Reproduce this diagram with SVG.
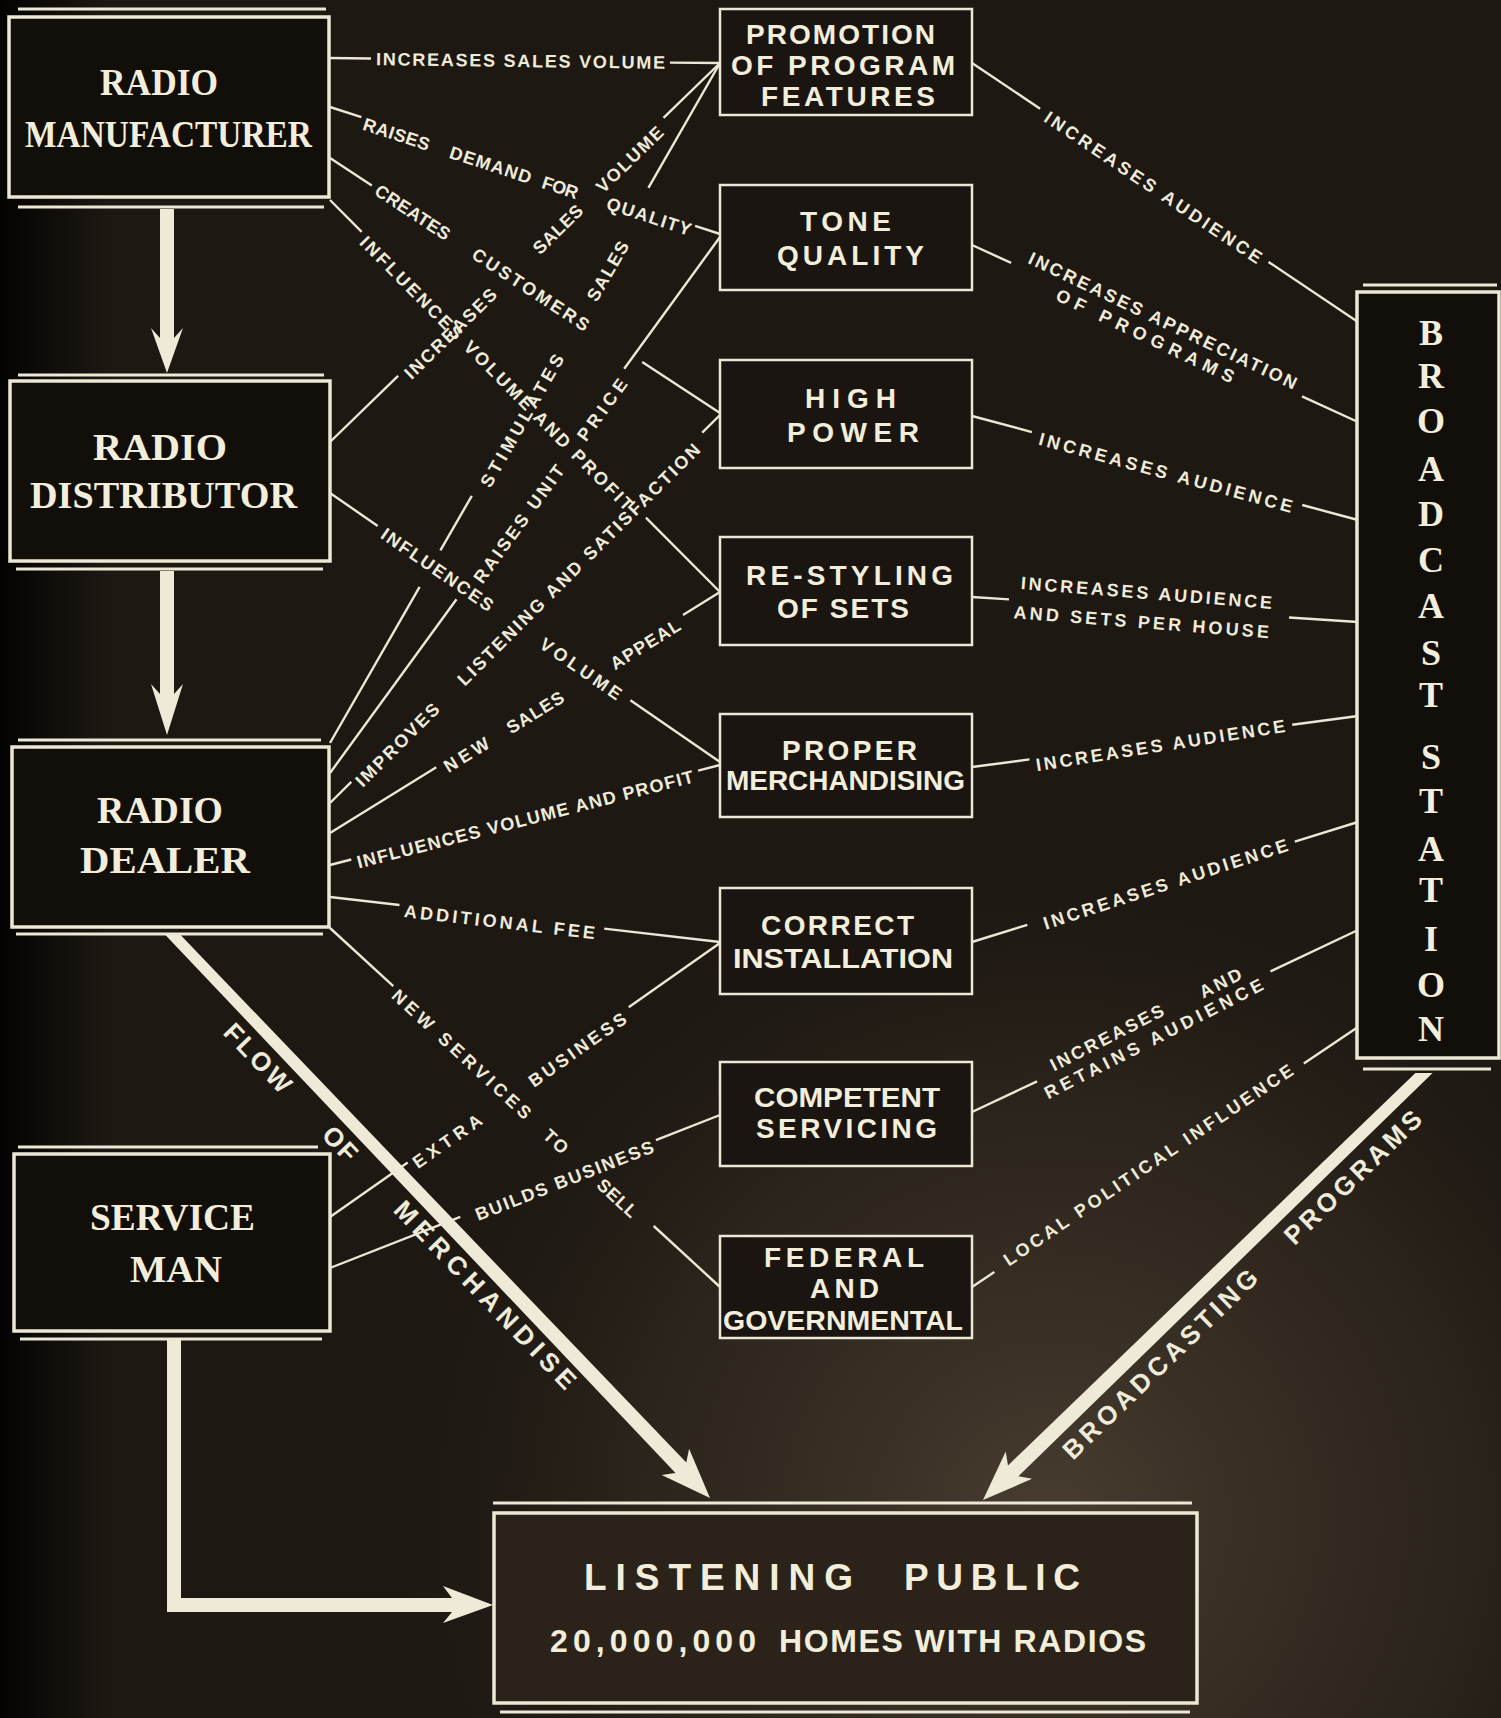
<svg xmlns="http://www.w3.org/2000/svg" width="1501" height="1718" viewBox="0 0 1501 1718">
<defs>
<radialGradient id="glow" cx="1050" cy="1520" r="700" gradientUnits="userSpaceOnUse">
<stop offset="0" stop-color="#483d30" stop-opacity="1"/>
<stop offset="0.6" stop-color="#352c22" stop-opacity="0.6"/>
<stop offset="1" stop-color="#1d1812" stop-opacity="0"/>
</radialGradient>
<linearGradient id="lv" x1="0" y1="0" x2="1" y2="0">
<stop offset="0" stop-color="#030202" stop-opacity="0.95"/>
<stop offset="1" stop-color="#030202" stop-opacity="0"/>
</linearGradient>
<style>
.c{fill:none;stroke:#ebe7d4;stroke-width:2.4;stroke-linecap:butt}
.lbl{font-family:"Liberation Sans",Arial,sans-serif;font-weight:bold;font-size:18px;fill:#efebda;text-anchor:middle}
.big{font-family:"Liberation Sans",Arial,sans-serif;font-weight:bold;font-size:26px;fill:#efebda;text-anchor:middle}
.band{fill:#eeead7}
.lb{fill:#120f0b;stroke:#ece8d5;stroke-width:3.5}
.ex{fill:none;stroke:#ece8d5;stroke-width:3}
.mb{fill:#1a1510;stroke:#ece8d5;stroke-width:2.5}
.nt{font-family:"Liberation Serif","Times New Roman",serif;font-weight:bold;font-size:37px;fill:#f2eedb;text-anchor:middle}
.mt{font-family:"Liberation Sans",Arial,sans-serif;font-weight:bold;font-size:28px;fill:#f2eedb;text-anchor:middle}
.st{font-family:"Liberation Serif","Times New Roman",serif;font-weight:bold;font-size:36px;fill:#f2eedb;text-anchor:middle}
.pt{font-family:"Liberation Sans",Arial,sans-serif;font-weight:bold;fill:#f2eedb;text-anchor:middle}
</style>
</defs>
<rect x="0" y="0" width="1501" height="1718" fill="#1d1812"/>
<rect x="0" y="0" width="1501" height="1718" fill="url(#glow)"/>
<rect x="0" y="0" width="110" height="1718" fill="url(#lv)"/>

<g id="connectors">
<path class="c" d="M329,58 L371,58.5 M670,62.6 L720,63"/>
<text class="lbl" transform="translate(520.5,60.5) rotate(0.7)" dy="6.5" textLength="289">INCREASES SALES VOLUME</text>

<path class="c" d="M330,107 L361.4,117.2 M695.1,225.9 L720,234"/>
<text class="lbl" transform="translate(396.6,134) rotate(18)" dy="6.5" textLength="69">RAISES</text>
<text class="lbl" transform="translate(490.7,164.6) rotate(18)" dy="6.5" textLength="85">DEMAND</text>
<text class="lbl" transform="translate(560.3,187.3) rotate(18)" dy="6.5" textLength="37">FOR</text>
<text class="lbl" transform="translate(649.1,216.2) rotate(18)" dy="6.5" textLength="88">QUALITY</text>

<path class="c" d="M330,158 L371.8,185.4 M642.2,362.1 L720,413"/>
<text class="lbl" transform="translate(412.9,212.2) rotate(33.2)" dy="6.5" textLength="86">CREATES</text>
<text class="lbl" transform="translate(530.9,289.3) rotate(33.2)" dy="6.5" textLength="136">CUSTOMERS</text>

<path class="c" d="M330,200 L361.7,231.9 M645.9,517.6 L720,592"/>
<text class="lbl" transform="translate(496.7,373.2) rotate(45.15)" dy="6.5" textLength="379">INFLUENCES VOLUME AND PROFIT</text>

<path class="c" d="M330,442 L398.1,375.8 M663.5,117.9 L720,63"/>
<text class="lbl" transform="translate(450.3,333.5) rotate(-44.2)" dy="6.5" textLength="121">INCREASES</text>
<text class="lbl" transform="translate(557.6,229.2) rotate(-44.2)" dy="6.5" textLength="62">SALES</text>
<text class="lbl" transform="translate(629.5,159.3) rotate(-44.2)" dy="6.5" textLength="86">VOLUME</text>

<path class="c" d="M330,743 L419.6,586.9 M440.4,550.4 L471.8,495.8 M648.4,187.8 L720,63"/>
<text class="lbl" transform="translate(521.9,420.5) rotate(-60.2)" dy="6.5" textLength="150">STIMULATES</text>
<text class="lbl" transform="translate(607.6,271) rotate(-60.2)" dy="6.5" textLength="66">SALES</text>

<path class="c" d="M330,773 L456.5,599.2 M624.2,368.7 L720,237"/>
<text class="lbl" transform="translate(518.7,523.8) rotate(-54)" dy="6.5" textLength="141">RAISES UNIT</text>
<text class="lbl" transform="translate(601.9,409.6) rotate(-54)" dy="6.5" textLength="72">PRICE</text>

<path class="c" d="M330,493 L377.7,525.9 M630.4,700.2 L720,762"/>
<text class="lbl" transform="translate(437.4,569.4) rotate(34.6)" dy="6.5" textLength="132">INFLUENCES</text>
<text class="lbl" transform="translate(581.1,668.6) rotate(34.6)" dy="6.5" textLength="95">VOLUME</text>

<path class="c" d="M330,803 L351.3,781.8 M702.2,432.7 L720,415"/>
<text class="lbl" transform="translate(397.1,744.7) rotate(-44.85)" dy="6.5" textLength="110">IMPROVES</text>
<text class="lbl" transform="translate(578.5,564.3) rotate(-44.85)" dy="6.5" textLength="334">LISTENING AND SATISFACTION</text>

<path class="c" d="M330,833 L436.3,767.3 M683,614.9 L720,592"/>
<text class="lbl" transform="translate(466.4,754.6) rotate(-31.7)" dy="6.5" textLength="50">NEW</text>
<text class="lbl" transform="translate(535,712.2) rotate(-31.7)" dy="6.5" textLength="64">SALES</text>
<text class="lbl" transform="translate(645.1,644.2) rotate(-31.7)" dy="6.5" textLength="79">APPEAL</text>

<path class="c" d="M330,865 L351.3,859.5 M698.1,770.6 L720,765"/>
<text class="lbl" transform="translate(525.1,819.1) rotate(-14.4)" dy="6.5" textLength="347">INFLUENCES VOLUME AND PROFIT</text>

<path class="c" d="M330,897 L399.5,905 M604.2,928.6 L720,942"/>
<text class="lbl" transform="translate(499.6,921.6) rotate(6.6)" dy="6.5" textLength="192">ADDITIONAL FEE</text>

<path class="c" d="M330,928 L393.3,986.2 M653.7,1226 L720,1287"/>
<text class="lbl" transform="translate(461.8,1054.1) rotate(42.6)" dy="6.5" textLength="182">NEW SERVICES</text>
<text class="lbl" transform="translate(556,1141.4) rotate(42.6)" dy="6.5" textLength="27">TO</text>
<text class="lbl" transform="translate(617.5,1198) rotate(42.6)" dy="6.5" textLength="48">SELL</text>

<path class="c" d="M330,1217 L407.7,1162.4 M628.7,1007.2 L720,943"/>
<text class="lbl" transform="translate(447.1,1140.9) rotate(-35.1)" dy="6.5" textLength="80">EXTRA</text>
<text class="lbl" transform="translate(577.2,1049.5) rotate(-35.1)" dy="6.5" textLength="115">BUSINESS</text>

<path class="c" d="M330,1268 L460.3,1216.9 M655.9,1140.2 L720,1115"/>
<text class="lbl" transform="translate(564.3,1180.4) rotate(-21.4)" dy="6.5" textLength="190">BUILDS BUSINESS</text>

<path class="c" d="M972,63 L1040.1,108.7 M1268.5,261.9 L1358,322"/>
<text class="lbl" transform="translate(1153.4,187.2) rotate(33.9)" dy="6.5" textLength="258">INCREASES AUDIENCE</text>

<path class="c" d="M972,245 L1011.1,262.9 M1302,396.3 L1358,422"/>
<text class="lbl" transform="translate(1162.9,320.4) rotate(25.5)" dy="6.5" textLength="295">INCREASES APPRECIATION</text>
<text class="lbl" transform="translate(1145.3,335.5) rotate(25.5)" dy="6.5" textLength="195">OF PROGRAMS</text>

<path class="c" d="M972,416 L1031.9,432.1 M1302.2,505 L1358,520"/>
<text class="lbl" transform="translate(1165.8,472.4) rotate(15.1)" dy="6.5" textLength="262">INCREASES AUDIENCE</text>

<path class="c" d="M972,597 L1009,599.4 M1289,617.5 L1358,622"/>
<text class="lbl" transform="translate(1146.5,592.5) rotate(4.5)" dy="6.5" textLength="252">INCREASES AUDIENCE</text>
<text class="lbl" transform="translate(1141.3,621.7) rotate(4.5)" dy="6.5" textLength="256">AND SETS PER HOUSE</text>

<path class="c" d="M972,767 L1029.5,759.4 M1292.2,724.7 L1358,716"/>
<text class="lbl" transform="translate(1160.4,745.1) rotate(-9)" dy="6.5" textLength="252">INCREASES AUDIENCE</text>

<path class="c" d="M972,942 L1027.4,924.8 M1294.8,841.6 L1358,822"/>
<text class="lbl" transform="translate(1165.5,883.9) rotate(-18)" dy="6.5" textLength="256">INCREASES AUDIENCE</text>

<path class="c" d="M972,1112 L1037.1,1081.3 M1270.5,971.3 L1358,930"/>
<text class="lbl" transform="translate(1106.8,1037.4) rotate(-27)" dy="6.5" textLength="125">INCREASES</text>
<text class="lbl" transform="translate(1220.4,982.8) rotate(-27)" dy="6.5" textLength="45">AND</text>
<text class="lbl" transform="translate(1153.6,1038.5) rotate(-27)" dy="6.5" textLength="243">RETAINS AUDIENCE</text>

<path class="c" d="M972,1287 L994.4,1271.9 M1303.8,1063.5 L1358,1027"/>
<text class="lbl" transform="translate(1148,1164.8) rotate(-34)" dy="6.5" textLength="345">LOCAL POLITICAL INFLUENCE</text>

<polygon class="band" points="160,209 174,209 174,338 183,328 167,373 151,328 160,338"/>
<polygon class="band" points="160,571 174,571 174,694 183,684 167,735 151,684 160,694"/>
<polygon class="band" points="167,1340 181,1340 181,1598 452,1598 443,1586 493,1605 443,1623 452,1612 167,1612"/>
<polygon class="band" points="165.4,935 180.6,935 686.3,1462.5 689.1,1448.7 710,1498 661.7,1475.1 675.5,1472.9"/>
<polygon class="band" points="1415.4,1073 1432.6,1073 1018.4,1476.2 1032.1,1478.8 983,1500 1005.7,1451.6 1008,1465.4"/>
<text class="big" transform="translate(257.8,1058) rotate(46.17)" dy="9" textLength="85">FLOW</text>
<text class="big" transform="translate(340.1,1143.7) rotate(46.17)" dy="9" textLength="38">OF</text>
<text class="big" transform="translate(485.2,1294.9) rotate(46.17)" dy="9" textLength="250">MERCHANDISE</text>
<text class="big" transform="translate(1160.1,1364) rotate(-44.07)" dy="9" textLength="260">BROADCASTING</text>
<text class="big" transform="translate(1352.8,1177.3) rotate(-44.07)" dy="9" textLength="180">PROGRAMS</text>
</g>

<g id="radio-manufacturer">
<rect class="lb" x="9" y="17" width="320" height="180"/>
<path class="ex" d="M18,9 H326 M18,207 H324"/>
<text class="nt" x="159" y="95" textLength="118" lengthAdjust="spacingAndGlyphs">RADIO</text>
<text class="nt" x="168.5" y="147" textLength="287" lengthAdjust="spacingAndGlyphs">MANUFACTURER</text>
</g>
<g id="radio-distributor">
<rect class="lb" x="10" y="381" width="320" height="180"/>
<path class="ex" d="M18,375 H324 M16,569 H323"/>
<text class="nt" x="160" y="460" textLength="134" lengthAdjust="spacingAndGlyphs">RADIO</text>
<text class="nt" x="163.5" y="508" textLength="267" lengthAdjust="spacingAndGlyphs">DISTRIBUTOR</text>
</g>
<g id="radio-dealer">
<rect class="lb" x="12" y="747" width="317" height="180"/>
<path class="ex" d="M18,740 H321 M16,934 H323"/>
<text class="nt" x="160" y="823" textLength="126" lengthAdjust="spacingAndGlyphs">RADIO</text>
<text class="nt" x="165" y="873" textLength="170" lengthAdjust="spacingAndGlyphs">DEALER</text>
</g>
<g id="service-man">
<rect class="lb" x="14" y="1154" width="316" height="177"/>
<path class="ex" d="M18,1147 H318 M20,1339 H322"/>
<text class="nt" x="172.5" y="1230" textLength="165" lengthAdjust="spacingAndGlyphs">SERVICE</text>
<text class="nt" x="176" y="1282" textLength="92" lengthAdjust="spacingAndGlyphs">MAN</text>
</g>

<g id="promotion">
<rect class="mb" x="720" y="9" width="252" height="106"/>
<text class="mt" x="840.5" y="44" textLength="189">PROMOTION</text>
<text class="mt" x="843" y="75" textLength="224">OF PROGRAM</text>
<text class="mt" x="848" y="106" textLength="174">FEATURES</text>
</g>
<g id="tone-quality">
<rect class="mb" x="720" y="185" width="252" height="105"/>
<text class="mt" x="845.5" y="231" textLength="91">TONE</text>
<text class="mt" x="850.5" y="265" textLength="147">QUALITY</text>
</g>
<g id="high-power">
<rect class="mb" x="720" y="360" width="252" height="108"/>
<text class="mt" x="850.5" y="408" textLength="91">HIGH</text>
<text class="mt" x="853" y="442" textLength="132">POWER</text>
</g>
<g id="re-styling">
<rect class="mb" x="720" y="537" width="252" height="108"/>
<text class="mt" x="849.5" y="585" textLength="207">RE-STYLING</text>
<text class="mt" x="843" y="618" textLength="132">OF SETS</text>
</g>
<g id="proper-merchandising">
<rect class="mb" x="720" y="714" width="252" height="103"/>
<text class="mt" x="849.5" y="760" textLength="135">PROPER</text>
<text class="mt" x="845.5" y="790" textLength="239" lengthAdjust="spacingAndGlyphs">MERCHANDISING</text>
</g>
<g id="correct-installation">
<rect class="mb" x="720" y="888" width="252" height="106"/>
<text class="mt" x="837.5" y="935" textLength="153">CORRECT</text>
<text class="mt" x="843" y="968" textLength="220" lengthAdjust="spacingAndGlyphs">INSTALLATION</text>
</g>
<g id="competent-servicing">
<rect class="mb" x="720" y="1062" width="252" height="104"/>
<text class="mt" x="847" y="1107" textLength="186" lengthAdjust="spacingAndGlyphs">COMPETENT</text>
<text class="mt" x="846.5" y="1138" textLength="181">SERVICING</text>
</g>
<g id="federal">
<rect class="mb" x="720" y="1236" width="252" height="102"/>
<text class="mt" x="844" y="1267" textLength="160">FEDERAL</text>
<text class="mt" x="844.5" y="1298" textLength="69">AND</text>
<text class="mt" x="843" y="1330" textLength="240" lengthAdjust="spacingAndGlyphs">GOVERNMENTAL</text>
</g>

<g id="broadcast-station">
<rect class="lb" x="1357" y="292" width="142" height="766"/>
<path class="ex" d="M1363,285 H1497 M1363,1069 H1491"/>
<text class="st"><tspan x="1431" y="345">B</tspan><tspan x="1431" y="388">R</tspan><tspan x="1431" y="433">O</tspan><tspan x="1431" y="481">A</tspan><tspan x="1431" y="526">D</tspan><tspan x="1431" y="572">C</tspan><tspan x="1431" y="618">A</tspan><tspan x="1431" y="665">S</tspan><tspan x="1431" y="707">T</tspan><tspan x="1431" y="769">S</tspan><tspan x="1431" y="813">T</tspan><tspan x="1431" y="861">A</tspan><tspan x="1431" y="902">T</tspan><tspan x="1431" y="951">I</tspan><tspan x="1431" y="997">O</tspan><tspan x="1431" y="1041">N</tspan></text>
</g>

<g id="listening-public">
<rect x="494" y="1513" width="703" height="190" fill="#2b2319" stroke="#ece8d5" stroke-width="3.5"/>
<path class="ex" d="M493,1503 H1192 M500,1712 H1190"/>
<text class="pt" x="718.5" y="1590" font-size="37" textLength="269">LISTENING</text>
<text class="pt" x="992" y="1590" font-size="37" textLength="176">PUBLIC</text>
<text class="pt" x="653" y="1652" font-size="32" textLength="206">20,000,000</text>
<text class="pt" x="962.5" y="1652" font-size="32" textLength="367">HOMES WITH RADIOS</text>
</g>
</svg>
